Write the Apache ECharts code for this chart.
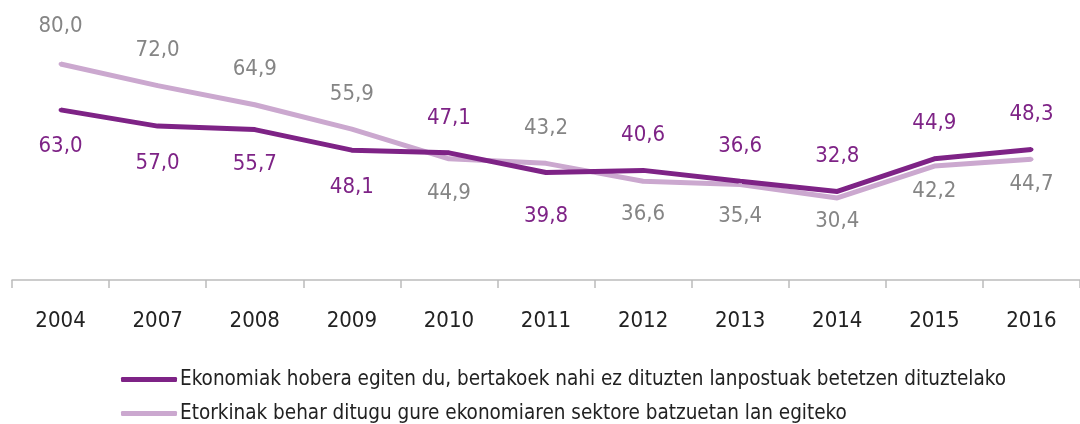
<!DOCTYPE html>
<html>
<head>
<meta charset="utf-8">
<script src="https://cdn.jsdelivr.net/npm/echarts@6/dist/echarts.min.js"></script>
<style>
  html, body { margin: 0; padding: 0; background: #fff; }
  #chart { width: 1080px; height: 424px; }
</style>
</head>
<body>
<div id="chart"></div>
<script>
// urteak
const years = ['2004', '2007', '2008', '2009', '2010', '2011', '2012', '2013', '2014', '2015', '2016']
const seriesNames = [
  'Ekonomiak hobera egiten du, bertakoek nahi ez dituzten lanpostuak betetzen dituztelako',
  'Etorkinak behar ditugu gure ekonomiaren sektore batzuetan lan egiteko'
]
const ekonomiak = [63.0, 57.0, 55.7, 48.1, 47.1, 39.8, 40.6, 36.6, 32.8, 44.9, 48.3]
const etorkinak = [80.0, 72.0, 64.9, 55.9, 44.9, 43.2, 36.6, 35.4, 30.4, 42.2, 44.7]

// label placement (layout only)
const sideA = ['bottom', 'bottom', 'bottom', 'bottom', 'top', 'bottom', 'top', 'top', 'top', 'top', 'top']
const sideB = ['top', 'top', 'top', 'top', 'bottom', 'top', 'bottom', 'bottom', 'bottom', 'bottom', 'bottom']
const gapA = [23, 24, 22, 24, 22, 31, 22, 22, 22, 22, 22]
const gapB = [25, 22, 22, 22, 22, 22, 20, 19, 10, 12, 12]

const FONT = '"Liberation Sans Narrow", "DejaVu Sans Condensed", "Roboto Condensed", sans-serif'
const DARK = '#7e2386'
const LIGHT = '#cba8cf'

function points(values, sides, gaps) {
  return values.map((v, i) => ({ value: v, label: { position: sides[i], distance: gaps[i] } }))
}

const chart = echarts.init(document.getElementById('chart'))
const fmt = p => p.value.toFixed(1).replace('.', ',')

chart.setOption({
  animation: false,
  grid: { left: 12, right: -4, top: 10, bottom: 144 },
  xAxis: {
    type: 'category',
    data: years,
    boundaryGap: true,
    axisLine: { lineStyle: { color: '#bcbcbc', width: 1.5 } },
    axisTick: { show: true, length: 8, lineStyle: { color: '#bcbcbc', width: 1.5 } },
    axisLabel: { color: '#222', fontSize: 22, fontFamily: FONT, margin: 30 }
  },
  yAxis: {
    type: 'value',
    min: 0,
    max: 100,
    show: false,
    splitLine: { show: false }
  },
  legend: {
    orient: 'vertical',
    left: 116,
    top: 364,
    height: 90,
    itemWidth: 56,
    itemHeight: 5,
    itemGap: 13,
    icon: 'roundRect',
    textStyle: { fontSize: 20.5, fontFamily: FONT, color: '#222', padding: [0, 0, 0, -2] },
    data: seriesNames
  },
  series: [
    {
      name: seriesNames[1],
      type: 'line',
      data: points(etorkinak, sideB, gapB),
      symbol: 'circle',
      symbolSize: 4,
      showSymbol: true,
      color: LIGHT,
      itemStyle: { color: LIGHT },
      lineStyle: { width: 5, color: LIGHT },
      label: { show: true, formatter: fmt, color: '#858585', fontSize: 22, fontFamily: FONT }
    },
    {
      name: seriesNames[0],
      type: 'line',
      data: points(ekonomiak, sideA, gapA),
      symbol: 'circle',
      symbolSize: 4,
      showSymbol: true,
      color: DARK,
      itemStyle: { color: DARK },
      lineStyle: { width: 5, color: DARK },
      label: { show: true, formatter: fmt, color: DARK, fontSize: 22, fontFamily: FONT }
    }
  ]
})
</script>
</body>
</html>
